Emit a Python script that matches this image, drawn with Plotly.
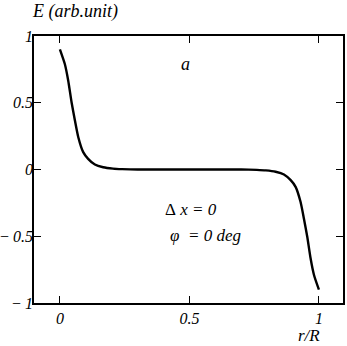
import plotly.graph_objects as go

# r/R positions and field values
r_vals = [0.0, 0.019, 0.032, 0.045, 0.058, 0.071, 0.09, 0.109, 0.135, 0.167, 0.205, 0.24, 0.30,
          0.40, 0.50, 0.60, 0.70,
          0.76, 0.795, 0.833, 0.865, 0.891, 0.91, 0.929, 0.942, 0.955, 0.968, 0.981, 1.0]
e_vals = [0.90, 0.79, 0.667, 0.504, 0.367, 0.242, 0.13, 0.08, 0.037, 0.017, 0.007, 0.003, 0.0,
          0.0, 0.0, 0.0, 0.0,
          -0.003, -0.007, -0.017, -0.037, -0.08, -0.13, -0.242, -0.367, -0.504, -0.667, -0.79, -0.90]

x_tick_vals = [0, 0.5, 1]
x_tick_text = ["0", "0.5", "1"]
y_tick_vals = [-1, -0.5, 0, 0.5, 1]
y_tick_text = ["−\u20091", "−\u20090.5", "0", "0.5", "1"]

FONT = "Liberation Serif"

fig = go.Figure()
fig.add_trace(go.Scatter(x=r_vals, y=e_vals, mode="lines",
                         line=dict(color="black", width=2.4, shape="spline", smoothing=0.6),
                         showlegend=False, hoverinfo="skip"))

axis_common = dict(showgrid=False, zeroline=False, showline=True, linecolor="black",
                   linewidth=1.5, mirror="ticks", ticks="inside", ticklen=7,
                   tickcolor="black", tickwidth=1.2, automargin=False,
                   tickfont=dict(family=FONT, size=16, color="black", style="italic"))

fig.update_xaxes(range=[-0.1, 1.093], tickvals=x_tick_vals, ticktext=x_tick_text, **axis_common)
fig.update_yaxes(range=[-1, 1], tickvals=y_tick_vals, ticktext=y_tick_text,
                 ticklabelstandoff=-4, **axis_common)

ann_font = dict(family=FONT, size=17, color="black", style="italic")
fig.add_annotation(text="E (arb.unit)", xref="paper", yref="paper", x=-0.013, y=1.09,
                   xanchor="left", yanchor="middle", showarrow=False,
                   font=dict(family=FONT, size=18, color="black", style="italic"))
fig.add_annotation(text="r/R", xref="x", yref="paper", x=0.96, y=-0.12,
                   xanchor="center", yanchor="middle", showarrow=False, font=ann_font)
fig.add_annotation(text="a", xref="x", yref="y", x=0.485, y=0.79,
                   showarrow=False, font=dict(family=FONT, size=18, color="black", style="italic"))
fig.add_annotation(text="<span style='font-style:normal'>Δ</span> x = 0", xref="x", yref="y",
                   x=0.397, y=-0.30, xanchor="left", yanchor="middle", showarrow=False, font=ann_font)
fig.add_annotation(text="φ  = 0 deg", xref="x", yref="y", x=0.416, y=-0.494,
                   xanchor="left", yanchor="middle", showarrow=False, font=ann_font)

fig.update_layout(width=347, height=346, margin=dict(l=34, r=4, t=36, b=43, autoexpand=False),
                  paper_bgcolor="white", plot_bgcolor="white")

fig.write_html("out.html", config={"displayModeBar": False},
               post_script="document.body.style.margin='0';")
